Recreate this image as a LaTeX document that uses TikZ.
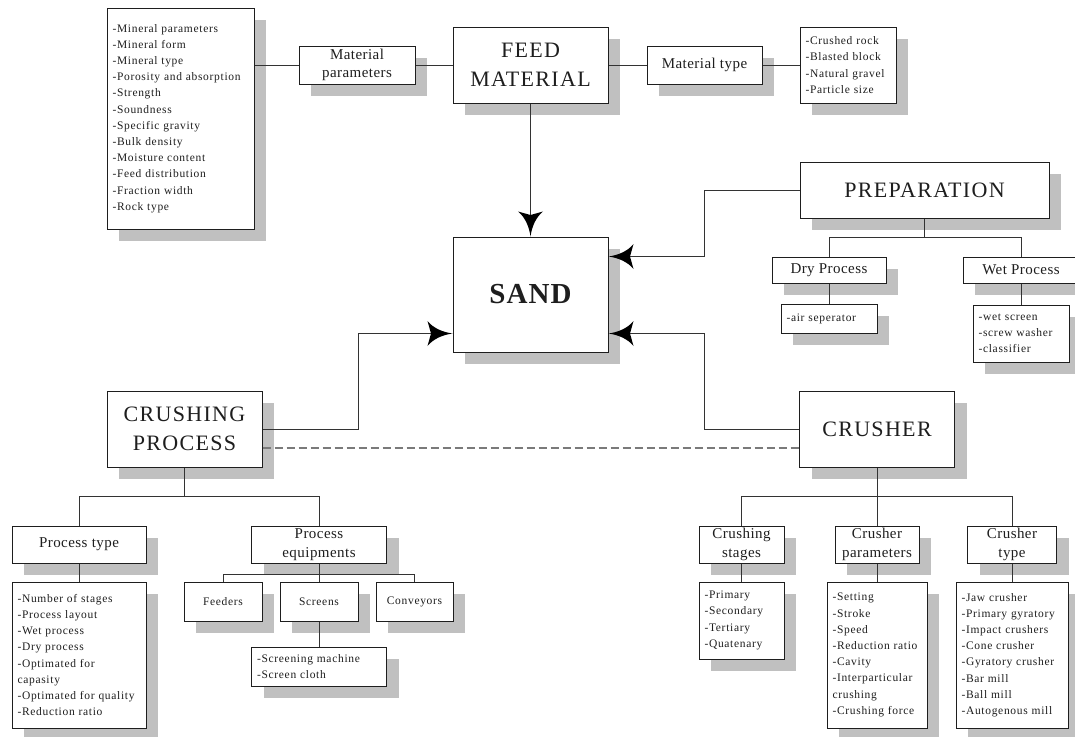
\documentclass[tikz,border=0pt]{standalone}
\usepackage{fontspec}
\setmainfont{Liberation Serif}
\newfontfamily\listfam[LetterSpace=6]{Liberation Serif}
\newfontfamily\midfam[LetterSpace=3]{Liberation Serif}
\newfontfamily\bigfam[LetterSpace=6]{Liberation Serif}
\newfontfamily\sandfam[LetterSpace=4]{Liberation Serif}
\usetikzlibrary{shadows,arrows.meta,calc}
\pgfdeclarearrow{
  name = Swoop,
  setup code = {
    \pgfarrowssettipend{0pt}
    \pgfarrowssetlineend{-18pt}
    \pgfarrowsupperhullpoint{-25pt}{12.5pt}
    \pgfarrowshullpoint{0pt}{0pt}
  },
  drawing code = {
    \pgfpathmoveto{\pgfpointorigin}
    \pgfpathcurveto{\pgfpoint{-9pt}{1.2pt}}{\pgfpoint{-19pt}{5pt}}{\pgfpoint{-25pt}{12.5pt}}
    \pgfpathlineto{\pgfpoint{-21.5pt}{0pt}}
    \pgfpathlineto{\pgfpoint{-25pt}{-12.5pt}}
    \pgfpathcurveto{\pgfpoint{-19pt}{-5pt}}{\pgfpoint{-9pt}{-1.2pt}}{\pgfpointorigin}
    \pgfpathclose
    \pgfusepathqfill
  }
}
\definecolor{shade}{HTML}{C0C0C0}
\definecolor{ink}{HTML}{1E1E1E}
\definecolor{wirec}{HTML}{333333}
\definecolor{dashgray}{HTML}{7A7A7A}
\begin{document}
\begin{tikzpicture}[x=1pt,y=-1pt,
  box/.style={draw=ink, line width=1pt, fill=white, inner sep=0pt, text=ink,
    drop shadow={shadow xshift=12pt, shadow yshift=-12pt, fill=shade, opacity=1, draw=none}},
  listbox/.style={box, align=left, inner xsep=5.5pt, font=\listfam\fontsize{11.5}{16.2}\selectfont},
  midbox/.style={box, align=center, font=\midfam\fontsize{15}{18.5}\selectfont},
  bigbox/.style={box, align=center, font=\bigfam\fontsize{22}{29}\selectfont},
  smallbox/.style={box, align=center, font=\listfam\fontsize{11.5}{16.2}\selectfont},
  wire/.style={draw=wirec, line width=1pt},
  arr/.style={wire, -{Swoop[color=black]}},
  dashline/.style={draw=dashgray, line width=1.2pt, dash pattern=on 8pt off 4pt}
]
\fill[white] (0,0) rectangle (1075,736);
\useasboundingbox (0,0) rectangle (1075,736);

% top row
\node[listbox, text width=136pt, minimum height=221pt] (mineral) at (180.5,118.5)
 {-Mineral~parameters\\-Mineral~form\\-Mineral~type\\-Porosity~and~absorption\\-Strength\\-Soundness\\-Specific~gravity\\-Bulk~density\\-Moisture~content\\-Feed~distribution\\-Fraction~width\\-Rock~type};
\node[midbox, minimum width=116pt, minimum height=38pt] (matparam) at (357,65) {Material\\parameters};
\node[bigbox, minimum width=155pt, minimum height=76pt] (feed) at (530.5,65) {FEED\\MATERIAL};
\node[midbox, minimum width=115pt, minimum height=38pt] (mattype) at (704.5,65) {Material type};
\node[listbox, text width=85pt, minimum height=76pt] (matlist) at (848,65)
 {-Crushed~rock\\-Blasted~block\\-Natural~gravel\\-Particle~size};

% centre
\node[box, minimum width=155pt, minimum height=115pt, font=\sandfam\bfseries\fontsize{29}{30}\selectfont] (sand) at (530.5,294.5) {SAND};

% preparation
\node[bigbox, minimum width=249pt, minimum height=56pt] (prep) at (924.5,190) {PREPARATION};
\node[midbox, minimum width=114pt, minimum height=26pt] (dry) at (829,270) {Dry Process};
\node[listbox, text width=85pt, minimum height=29pt] (air) at (829,318.5) {-air~seperator};
\node[midbox, minimum width=116pt, minimum height=26pt] (wet) at (1021,270) {Wet Process};
\node[listbox, text width=85pt, minimum height=57pt] (wetlist) at (1021,333.5)
 {-wet~screen\\-screw~washer\\-classifier};

% crushing process
\node[bigbox, minimum width=155pt, minimum height=76pt] (crushproc) at (184.5,429) {CRUSHING\\PROCESS};
\node[midbox, minimum width=134pt, minimum height=37pt] (ptype) at (79,544.5) {Process type};
\node[listbox, text width=123pt, minimum height=146pt] (ptlist) at (79,655)
 {-Number~of~stages\\-Process~layout\\-Wet~process\\-Dry~process\\-Optimated~for\\capasity\\-Optimated~for~quality\\-Reduction~ratio};
\node[midbox, minimum width=135pt, minimum height=37pt] (pequip) at (319,544.5) {Process\\equipments};
\node[smallbox, minimum width=78pt, minimum height=39pt] (feeders) at (223,601.5) {Feeders};
\node[smallbox, minimum width=78pt, minimum height=39pt] (screens) at (319,601.5) {Screens};
\node[smallbox, minimum width=77pt, minimum height=39pt] (conveyors) at (414.5,601.5) {Conveyors};
\node[listbox, text width=124pt, minimum height=39pt] (scrlist) at (319,666.5)
 {-Screening~machine\\-Screen~cloth};

% crusher
\node[bigbox, minimum width=155pt, minimum height=76pt] (crusher) at (877,429) {CRUSHER};
\node[midbox, minimum width=85pt, minimum height=37pt] (cstages) at (741.5,544.5) {Crushing\\stages};
\node[listbox, text width=74pt, minimum height=77pt] (cslist) at (741.5,620.5)
 {-Primary\\-Secondary\\-Tertiary\\-Quatenary};
\node[midbox, minimum width=84pt, minimum height=37pt] (cparam) at (877,544.5) {Crusher\\parameters};
\node[listbox, text width=89pt, minimum height=146pt] (cplist) at (877,655)
 {-Setting\\-Stroke\\-Speed\\-Reduction~ratio\\-Cavity\\-Interparticular\\crushing\\-Crushing~force};
\node[midbox, minimum width=89pt, minimum height=37pt] (ctype) at (1012,544.5) {Crusher\\type};
\node[listbox, text width=101pt, minimum height=146pt] (ctlist) at (1012,655)
 {-Jaw~crusher\\-Primary~gyratory\\-Impact~crushers\\-Cone~crusher\\-Gyratory~crusher\\-Bar~mill\\-Ball~mill\\-Autogenous~mill};

% connectors: top row
\draw[wire] (mineral.east |- matparam.west) -- (matparam.west);
\draw[wire] (matparam.east) -- (feed.west);
\draw[wire] (feed.east) -- (mattype.west);
\draw[wire] (mattype.east) -- (matlist.west);
\draw[arr] (feed.south) -- (sand.north);

% connectors into SAND
\coordinate (sandR1) at ([yshift=-20pt]sand.north east);
\coordinate (sandR2) at ([yshift=19pt]sand.south east);
\coordinate (sandL) at ([yshift=19pt]sand.south west);
\coordinate (bendR) at (704,0);
\coordinate (bendL) at (358,0);
\draw[arr] (prep.west) -| (bendR |- sandR1) -- (sandR1);
\draw[arr] (crusher.west) -| (bendR |- sandR2) -- (sandR2);
\draw[arr] (crushproc.east) -| (bendL |- sandL) -- (sandL);
\draw[dashline] ([yshift=-19pt]crushproc.east) -- ([yshift=-19pt]crusher.west);

% preparation tree
\draw[wire] (prep.south) -- ++(0,19) coordinate (pj);
\draw[wire] (dry.north) |- (pj) -| (wet.north);
\draw[wire] (dry.south) -- (air.north);
\draw[wire] (wet.south) -- (wetlist.north);

% crushing process tree
\draw[wire] (crushproc.south) -- ++(0,29) coordinate (cj);
\draw[wire] (ptype.north) |- (cj) -| (pequip.north);
\draw[wire] (ptype.south) -- (ptlist.north);
\draw[wire] (pequip.south) -- (screens.north);
\draw[wire] (feeders.north) |- ([yshift=-11pt]pequip.south) -| (conveyors.north);
\draw[wire] (screens.south) -- (scrlist.north);

% crusher tree
\draw[wire] (crusher.south) -- ++(0,29) coordinate (kj);
\draw[wire] (cstages.north) |- (kj) -| (ctype.north);
\draw[wire] (kj) -- (cparam.north);
\draw[wire] (cstages.south) -- (cslist.north);
\draw[wire] (cparam.south) -- (cplist.north);
\draw[wire] (ctype.south) -- (ctlist.north);
\end{tikzpicture}
\end{document}
